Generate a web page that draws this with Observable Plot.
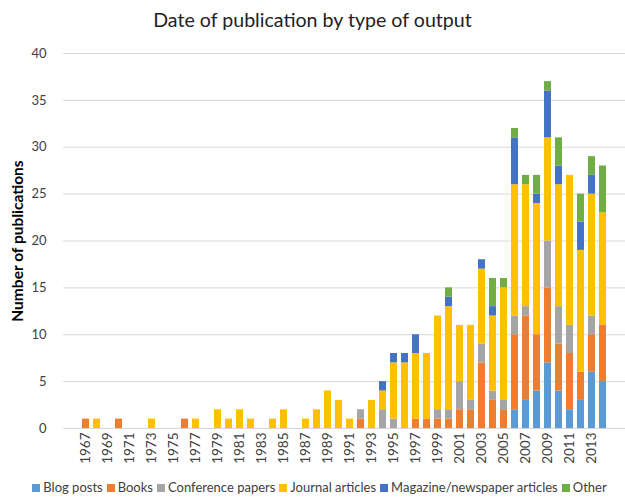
<!DOCTYPE html>
<html><head><meta charset="utf-8">
<script src="https://cdn.jsdelivr.net/npm/d3@7"></script>
<script src="https://cdn.jsdelivr.net/npm/@observablehq/plot@0.6"></script>
<style>
body{margin:0;background:#fff;font-family:Lato,"Open Sans",sans-serif;width:625px;height:499px;overflow:hidden}
#title{height:35px;text-align:center;font-size:19.6px;line-height:20px;padding-top:10px;box-sizing:border-box;color:#222}
#legend{display:flex;justify-content:center;gap:4px;font-size:13px;color:#404040;margin-top:4px;padding-left:14px}
#legend span.sw{display:inline-block;width:8px;height:8px;margin-right:3px}
</style></head><body>
<div id="title">Date of publication by type of output</div>
<div id="chart"></div>
<div id="legend"></div>
<script>
const years = ["1967","1968","1969","1970","1971","1972","1973","1974","1975","1976",
"1977","1978","1979","1980","1981","1982","1983","1984","1985","1986",
"1987","1988","1989","1990","1991","1992","1993","1994","1995","1996",
"1997","1998","1999","2000","2001","2002","2003","2004","2005","2006",
"2007","2008","2009","2010","2011","2012","2013","2014"];
const categories = ["Blog posts","Books","Conference papers","Journal articles","Magazine/newspaper articles","Other"];
const colors = ["#5B9BD5","#ED7D31","#A5A5A5","#FFC000","#4472C4","#70AD47"];
const blog =     [0,0,0,0,0,0,0,0,0,0, 0,0,0,0,0,0,0,0,0,0, 0,0,0,0,0,0,0,0,0,0, 0,0,0,0,0,0,0,0,0,2, 3,4,7,4,2,3,6,5];
const books =    [1,0,0,1,0,0,0,0,0,1, 0,0,0,0,0,0,0,0,0,0, 0,0,0,0,0,1,0,0,0,0, 1,1,1,1,2,2,7,3,2,8, 9,6,8,5,6,3,4,6];
const conf =     [0,0,0,0,0,0,0,0,0,0, 0,0,0,0,0,0,0,0,0,0, 0,0,0,0,0,1,0,2,1,0, 0,0,1,1,3,1,2,1,1,2, 1,0,5,4,3,0,2,0];
const journal =  [0,1,0,0,0,0,1,0,0,0, 1,0,2,1,2,1,0,1,2,0, 1,2,4,3,1,0,3,2,6,7, 7,7,10,11,6,8,8,8,12,14, 13,14,11,13,16,13,13,12];
const magazine = [0,0,0,0,0,0,0,0,0,0, 0,0,0,0,0,0,0,0,0,0, 0,0,0,0,0,0,0,1,1,1, 2,0,0,1,0,0,1,1,0,5, 0,1,5,2,0,3,2,0];
const other =    [0,0,0,0,0,0,0,0,0,0, 0,0,0,0,0,0,0,0,0,0, 0,0,0,0,0,0,0,0,0,0, 0,0,0,1,0,0,0,3,1,1, 1,2,1,3,0,3,2,5];
const yTicks = [0,5,10,15,20,25,30,35,40];
const xTickLabels = years.filter((y,i)=>i%2===0);

const series = [blog,books,conf,journal,magazine,other];
const data = [];
years.forEach((y,i)=>{
  categories.forEach((c,k)=>{ data.push({year:y,type:c,value:series[k][i]}); });
});

const chart = Plot.plot({
  width:625, height:440,
  marginTop:18, marginBottom:47, marginLeft:63, marginRight:0,
  style:{fontFamily:"Lato, sans-serif", fontSize:"12px", color:"#404040"},
  x:{domain:years, padding:0.4, label:null},
  y:{domain:[0,40], label:null},
  color:{domain:categories, range:colors},
  marks:[
    Plot.gridY(yTicks,{stroke:"#d9d9d9", strokeOpacity:1, strokeWidth:1}),
    Plot.axisY(yTicks,{tickSize:0, tickPadding:17, fontSize:13, label:"Number of publications", labelAnchor:"center", labelArrow:"none", labelOffset:52}),
    Plot.axisX(xTickLabels,{tickSize:0, tickRotate:-90, tickPadding:4, fontSize:13.5, label:null}),
    Plot.barY(data,{x:"year", y:"value", fill:"type", order:categories}),
    Plot.ruleY([0],{stroke:"#d9d9d9"})
  ]
});
document.getElementById("chart").appendChild(chart);
const ylab = chart.querySelector('g[aria-label="y-axis label"] text');
if (ylab){ ylab.setAttribute("font-weight","bold"); ylab.setAttribute("font-size","15.5"); ylab.setAttribute("fill","#000"); }

const leg = document.getElementById("legend");
categories.forEach((c,k)=>{
  const d=document.createElement("div");
  d.innerHTML=`<span class="sw" style="background:${colors[k]}"></span>${c}`;
  leg.appendChild(d);
});
</script>
</body></html>
